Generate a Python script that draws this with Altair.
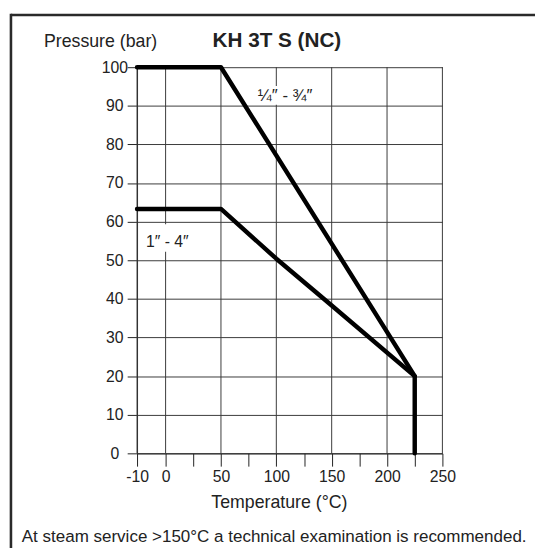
import altair as alt
import pandas as pd

# ---- data ----
small_t = [-10, 50, 225, 225]
small_p = [100, 100, 20, 0]
large_t = [-10, 50, 100, 150, 225]
large_p = [63.3, 63.3, 50.4, 38.3, 20]

x_ticks = [-10, 0, 25, 50, 75, 100, 125, 150, 175, 200, 225, 250]
x_grid = [-10, 0, 50, 100, 150, 200, 250]
y_ticks = [0, 10, 20, 30, 40, 50, 60, 70, 80, 90, 100]

label_text = ["\u00bc\u2033 - \u00be\u2033", "1\u2033 - 4\u2033"]
label_t = [108, 1.5]
label_p = [92.6, 54.6]
label_size = [17, 16]
box_t1 = [80, -8]
box_t2 = [137, 23]
box_p1 = [90.3, 52.2]
box_p2 = [95.1, 59.3]

title_text = "KH 3T S (NC)"
foot_text = "At steam service >150\u00b0C a technical examination is recommended."

FONT = "Liberation Sans"
INK = "#222222"
GRID = "#3a3a3a"

rows = []
for i, (t, p) in enumerate(zip(small_t, small_p)):
    rows.append({"series": "small", "idx": i, "t": t, "p": p})
for i, (t, p) in enumerate(zip(large_t, large_p)):
    rows.append({"series": "large", "idx": i, "t": t, "p": p})
df = pd.DataFrame(rows)

labels_df = pd.DataFrame({"text": label_text, "t": label_t, "p": label_p, "size": label_size,
                          "t1": box_t1, "t2": box_t2, "p1": box_p1, "p2": box_p2})
grid_df = pd.DataFrame({"g": x_grid})

xscale = alt.Scale(domain=[-10, 0, 250], range=[0, 29, 310], nice=False, zero=False)
yscale = alt.Scale(domain=[0, 100], nice=False, zero=False)

main_cond = "datum.value % 50 === 0 || datum.value === -10"

x_axis = alt.Axis(
    values=x_ticks,
    tickCount=len(x_ticks) + 2,
    labelExpr=f"({main_cond}) ? ('' + datum.value) : ''",
    labelOverlap=False,
    labelFlush=False,
    grid=False,
    tickSize=13,
    tickColor="#222",
    domainColor="#222",
    labelPadding=3,
    labelFontSize=16,
    labelFont=FONT,
    labelColor=INK,
    title="Temperature (\u00b0C)",
    titleFont=FONT,
    titleFontSize=18,
    titleFontWeight="normal",
    titleColor=INK,
    titleX=144,
    titleY=55,
    titleBaseline="alphabetic",
    titleAlign="center",
)

y_axis = alt.Axis(
    values=y_ticks,
    tickCount=len(y_ticks) + 2,
    labelOverlap=False,
    labelFlush=False,
    grid=True,
    gridColor=GRID,
    gridWidth=1,
    tickSize=10,
    tickColor="#222",
    domainColor="#222",
    labelAlign="center",
    labelBaseline="middle",
    labelPadding=13,
    labelFontSize=16,
    labelFont=FONT,
    labelColor=INK,
    title="Pressure (bar)",
    titleFont=FONT,
    titleFontSize=18,
    titleFontWeight="normal",
    titleColor=INK,
    titleAngle=0,
    titleX=-95,
    titleY=-21,
    titleAlign="left",
    titleBaseline="alphabetic",
)

vgrid = alt.Chart(grid_df).mark_rule(color=GRID, strokeWidth=1).encode(
    x=alt.X("g:Q", scale=xscale, axis=x_axis),
    y=alt.value(0),
    y2=alt.value(392),
)

boxes = alt.Chart(labels_df).mark_rect(fill="white", stroke=None).encode(
    x=alt.X("t1:Q"),
    x2="t2:Q",
    y=alt.Y("p1:Q", scale=yscale, axis=y_axis),
    y2="p2:Q",
)

lines = alt.Chart(df).mark_line(color="black", strokeWidth=4.5, strokeCap="round", strokeJoin="round").encode(
    x=alt.X("t:Q"),
    y=alt.Y("p:Q"),
    detail="series:N",
    order="idx:Q",
)

texts = alt.Chart(labels_df).mark_text(font=FONT, color=INK, align="center", baseline="middle").encode(
    x=alt.X("t:Q"),
    y=alt.Y("p:Q"),
    text="text:N",
    size=alt.Size("size:Q", scale=None, legend=None),
)

title = alt.Chart(pd.DataFrame({"text": [title_text]})).mark_text(
    font=FONT, fontSize=21, fontWeight="bold", color=INK, align="center", baseline="alphabetic"
).encode(x=alt.value(142), y=alt.value(-21), text="text:N")

foot = alt.Chart(pd.DataFrame({"text": [foot_text]})).mark_text(
    font=FONT, fontSize=17.25, color=INK, align="left", baseline="alphabetic"
).encode(x=alt.value(-117), y=alt.value(482.5), text="text:N")

frame_top = alt.Chart(pd.DataFrame({"a": [0]})).mark_rule(color="#2a2a2a", strokeWidth=2.6).encode(
    x=alt.value(-128), x2=alt.value(420), y=alt.value(-53)
)
frame_left = alt.Chart(pd.DataFrame({"a": [0]})).mark_rule(color="#2a2a2a", strokeWidth=2.6).encode(
    x=alt.value(-128), y=alt.value(-54.3), y2=alt.value(500)
)

chart = alt.layer(vgrid, boxes, lines, texts, title, foot, frame_top, frame_left).properties(
    width=310,
    height=392,
    autosize=alt.AutoSizeParams(type="none"),
    padding={"left": 131, "top": 56, "right": 94, "bottom": 92},
    background="white",
).configure_view(stroke=None)

chart.save("out.html", embed_options={"renderer": "svg", "actions": False})
